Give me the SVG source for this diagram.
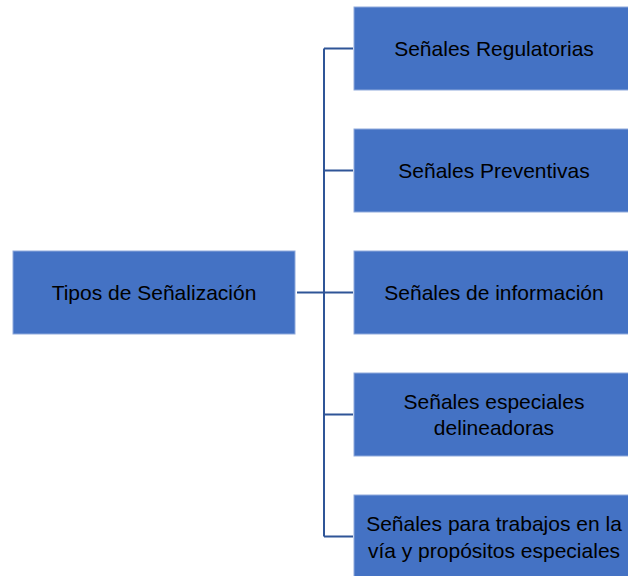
<svg xmlns="http://www.w3.org/2000/svg" width="628" height="576" viewBox="0 0 628 576">
<style>
.box{fill:#4472C4;stroke:#8FAADC;stroke-width:1}
.t{font-family:"Liberation Sans",Arial,sans-serif;font-size:21px;fill:#000;text-anchor:middle;dominant-baseline:central}
.c{stroke:#2F5597;fill:none;stroke-width:2}
</style>
<rect width="628" height="576" fill="#fff"/>
<g id="connectors">
<path class="c" d="M324 48.5 V536.5"/>
<path class="c" d="M324 48.5 H353 M324 170.5 H353 M324 292.5 H353 M324 414.5 H353 M324 536.5 H353"/>
<path class="c" stroke-width="3" d="M297 292.5 H324"/>
</g>
<g id="root"><rect class="box" x="13" y="251" width="282" height="83"/><text class="t" x="154" y="292.5">Tipos de Señalización</text></g>
<g id="n1"><rect class="box" x="354" y="7" width="280" height="83"/><text class="t" x="494" y="48.5">Señales Regulatorias</text></g>
<g id="n2"><rect class="box" x="354" y="129" width="280" height="83"/><text class="t" x="494" y="170.5">Señales Preventivas</text></g>
<g id="n3"><rect class="box" x="354" y="251" width="280" height="83"/><text class="t" x="494" y="292.5">Señales de información</text></g>
<g id="n4"><rect class="box" x="354" y="373" width="280" height="83"/><text class="t" x="494" y="401">Señales especiales</text><text class="t" x="494" y="427">delineadoras</text></g>
<g id="n5"><rect class="box" x="354" y="495" width="280" height="83"/><text class="t" x="494" y="523">Señales para trabajos en la</text><text class="t" x="494" y="550">vía y propósitos especiales</text></g>
</svg>
